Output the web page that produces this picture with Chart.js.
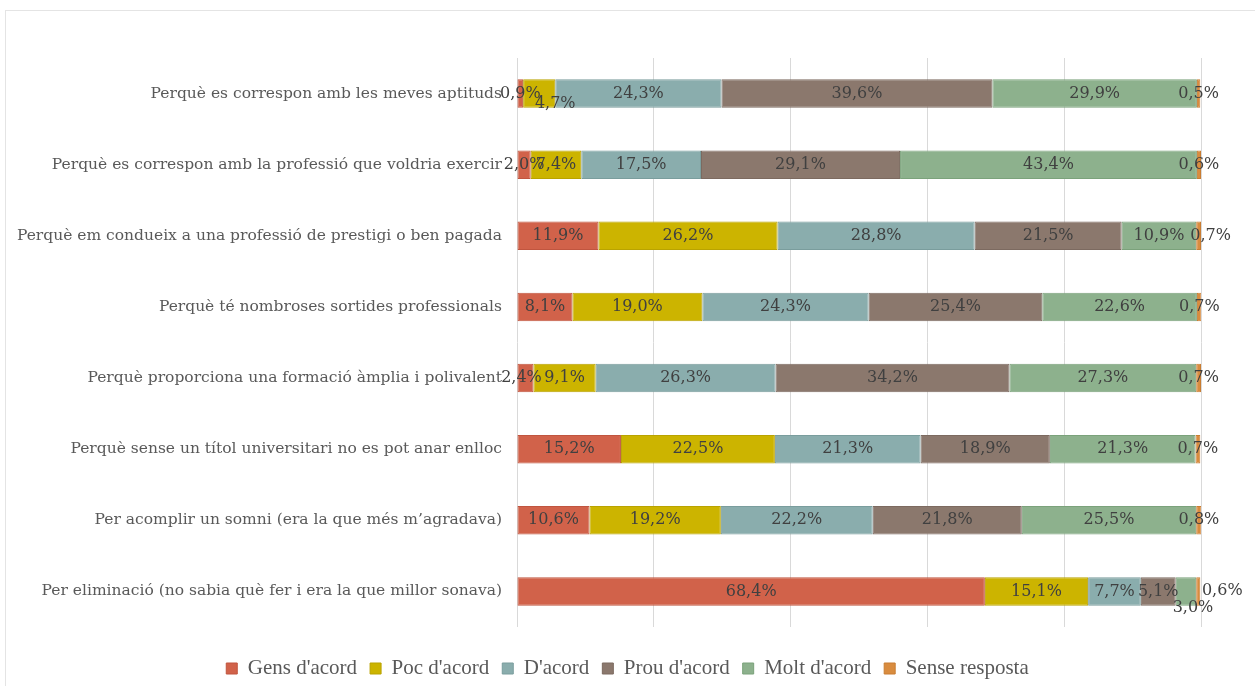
<!DOCTYPE html>
<html lang="ca">
<head>
    <meta charset="UTF-8">
    <title>Motius</title>
    <style>
        body { margin: 0; background: #fff; overflow: hidden; }
        #frame {
            position: absolute;
            left: 5px;
            top: 10px;
            width: 1260px;
            height: 690px;
            border: 1px solid #e4e4e4;
        }
        #wrap { position: absolute; left: 0; top: 0; width: 1255px; height: 689px; }
    </style>
    <script src="https://cdn.jsdelivr.net/npm/chart.js@4.4.0/dist/chart.umd.min.js"></script>
</head>
<body>
    <div id="frame"></div>
    <div id="wrap"><canvas id="graph"></canvas></div>
    <script>
        // categories (top to bottom)
        const motius = [
            "Perquè es correspon amb les meves aptituds",
            "Perquè es correspon amb la professió que voldria exercir",
            "Perquè em condueix a una professió de prestigi o ben pagada",
            "Perquè té nombroses sortides professionals",
            "Perquè proporciona una formació àmplia i polivalent",
            "Perquè sense un títol universitari no es pot anar enlloc",
            "Per acomplir un somni (era la que més m’agradava)",
            "Per eliminació (no sabia què fer i era la que millor sonava)"
        ];

        const gens   = [0.9, 2.0, 11.9, 8.1, 2.4, 15.2, 10.6, 68.4];
        const poc    = [4.7, 7.4, 26.2, 19.0, 9.1, 22.5, 19.2, 15.1];
        const dacord = [24.3, 17.5, 28.8, 24.3, 26.3, 21.3, 22.2, 7.7];
        const prou   = [39.6, 29.1, 21.5, 25.4, 34.2, 18.9, 21.8, 5.1];
        const molt   = [29.9, 43.4, 10.9, 22.6, 27.3, 21.3, 25.5, 3.0];
        const sense  = [0.5, 0.6, 0.7, 0.7, 0.7, 0.7, 0.8, 0.6];

        const seriesNames = ["Gens d'acord", "Poc d'acord", "D'acord", "Prou d'acord", "Molt d'acord", "Sense resposta"];
        const colors  = ['#d1624a', '#ccb400', '#8aadad', '#8b786d', '#8db18d', '#d98c3f'];
        const borders = ['#c0553f', '#b9a300', '#7a9d9d', '#7c6a60', '#7ba27b', '#c97d32'];

        // labels moved by hand in the original (dataset-index: [dx, dy])
        const nudges = { "1-0": [16, 10], "4-7": [7, 16], "5-7": [24, -1], "5-2": [12, 0], "0-4": [-4, 0] };

        const serif = "'DejaVu Serif', 'Liberation Serif', serif";

        const valueLabels = {
            id: 'valueLabels',
            afterDatasetsDraw(chart) {
                const ctx = chart.ctx;
                ctx.save();
                ctx.font = "16px " + serif;
                ctx.fillStyle = '#404040';
                ctx.textAlign = 'center';
                ctx.textBaseline = 'middle';
                chart.data.datasets.forEach((ds, d) => {
                    chart.getDatasetMeta(d).data.forEach((bar, i) => {
                        const p = bar.getCenterPoint();
                        const n = nudges[d + "-" + i] || [0, 0];
                        const txt = ds.data[i].toFixed(1).replace('.', ',') + '%';
                        ctx.fillText(txt, p.x + n[0], p.y + n[1]);
                    });
                });
                ctx.restore();
            }
        };

        const allData = [gens, poc, dacord, prou, molt, sense];
        const datasets = allData.map((vals, k) => ({
            label: seriesNames[k],
            data: vals,
            backgroundColor: colors[k],
            borderColor: borders[k],
            borderWidth: 1,
            borderSkipped: false,
            barPercentage: 0.4,
            categoryPercentage: 1
        }));

        new Chart(document.getElementById("graph"), {
            type: 'bar',
            data: { labels: motius, datasets: datasets },
            plugins: [valueLabels],
            options: {
                indexAxis: 'y',
                responsive: true,
                maintainAspectRatio: false,
                animation: false,
                layout: { padding: { top: 58, right: 0, bottom: 0, left: 0 } },
                scales: {
                    x: {
                        stacked: true,
                        min: 0,
                        max: 100,
                        ticks: { display: false, stepSize: 20 },
                        grid: { color: '#d9d9d9', drawTicks: false },
                        border: { display: false },
                        afterFit: s => { s.height = 18; }
                    },
                    y: {
                        stacked: true,
                        ticks: {
                            color: '#595959',
                            font: { family: serif, size: 15.5 },
                            padding: 15
                        },
                        grid: { display: false, drawTicks: false },
                        border: { display: false },
                        afterFit: s => { s.width = 517; }
                    },
                    // empty space on the right of the bars
                    yRight: {
                        position: 'right',
                        ticks: { display: false },
                        grid: { display: false, drawTicks: false },
                        border: { display: false },
                        afterFit: s => { s.width = 54; }
                    }
                },
                plugins: {
                    legend: {
                        position: 'bottom',
                        labels: {
                            color: '#595959',
                            font: { family: "'Liberation Serif', serif", size: 21 },
                            boxWidth: 11,
                            boxHeight: 11,
                            padding: 13
                        }
                    },
                    tooltip: { enabled: false }
                }
            }
        });
    </script>
</body>
</html>
